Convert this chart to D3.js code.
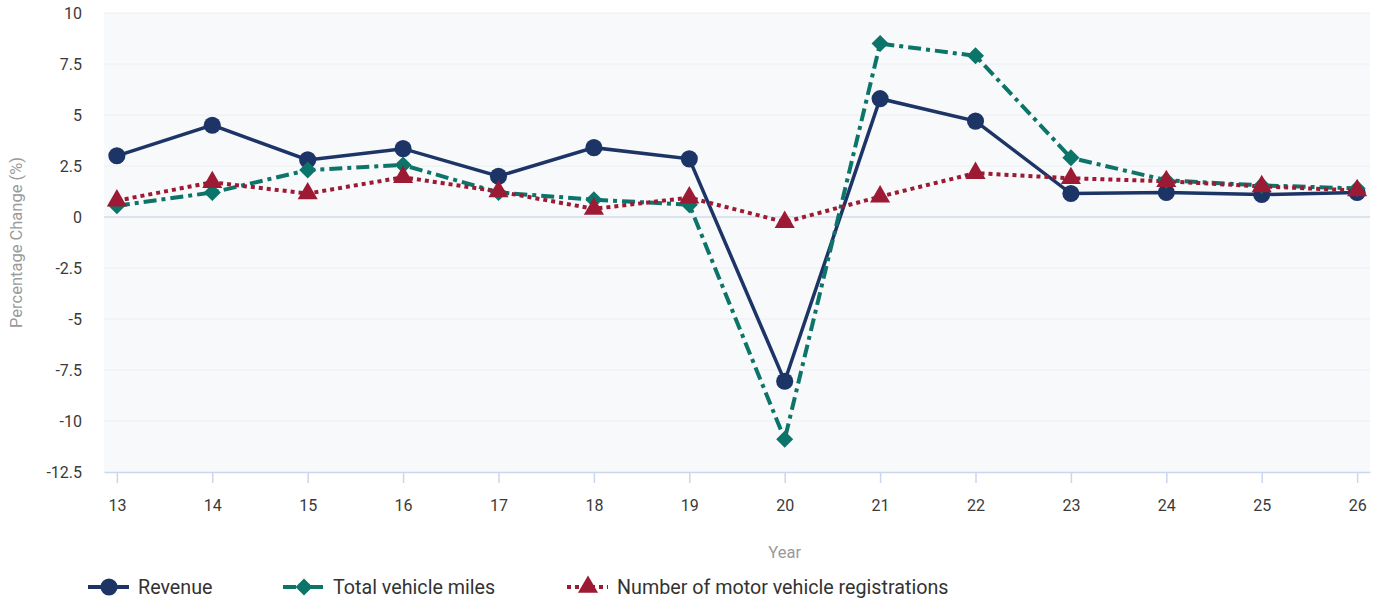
<!DOCTYPE html>
<html>
<head>
<meta charset="utf-8">
<script src="https://cdn.jsdelivr.net/npm/d3@7"></script>
<style>
  body { margin: 0; background: #fff; font-family: Roboto, "Open Sans", sans-serif; }
  #chart svg { display: block; }
  .tick text { fill: #3a3a3a; font-size: 16px; font-family: Roboto, sans-serif; }
  .axis-label { fill: #9a9a9a; font-size: 16.5px; }
  .legend-text { fill: #333; font-size: 19.7px; }
</style>
</head>
<body>
<div id="chart"></div>
<script>
// Data
const years = ["13", "14", "15", "16", "17", "18", "19", "20", "21", "22", "23", "24", "25", "26"];
const revenue = [3.0, 4.5, 2.8, 3.35, 2.0, 3.4, 2.85, -8.05, 5.8, 4.7, 1.15, 1.2, 1.1, 1.2];
const vehicleMiles = [0.55, 1.2, 2.3, 2.55, 1.2, 0.85, 0.6, -10.9, 8.5, 7.9, 2.9, 1.8, 1.55, 1.4];
const registrations = [0.8, 1.7, 1.15, 1.95, 1.25, 0.4, 0.95, -0.25, 1.0, 2.15, 1.9, 1.75, 1.5, 1.3];
const yTicks = [10, 7.5, 5, 2.5, 0, -2.5, -5, -7.5, -10, -12.5];

const series = [
    { name: "Revenue", values: revenue, color: "#1d3466", dash: null, width: 3.5, symbol: d3.symbolCircle, size: 230, rot: 0 },
    { name: "Total vehicle miles", values: vehicleMiles, color: "#0c7468", dash: "13,5,4,5", width: 4, symbol: d3.symbolSquare, size: 145, rot: 45 },
    { name: "Number of motor vehicle registrations", values: registrations, color: "#9c1a33", dash: "4,4", width: 4, symbol: d3.symbolTriangle, size: 175, rot: 0 }
];

const W = 1379, H = 600;
const margin = { top: 13, right: 9, bottom: 128, left: 104 };
const width = W - margin.left - margin.right;
const height = H - margin.top - margin.bottom;

const svg = d3.select("#chart").append("svg")
    .attr("width", W)
    .attr("height", H);

const g = svg.append("g")
    .attr("transform", `translate(${margin.left},${margin.top})`);

// Scales
const x = d3.scalePoint()
    .domain(years)
    .range([0, width])
    .padding(0.135);

const y = d3.scaleLinear()
    .domain([-12.5, 10])
    .range([height, 0]);

// Plot background
g.append("rect")
    .attr("width", width)
    .attr("height", height)
    .attr("fill", "#f8f9fa");

// Gridlines
g.selectAll(".grid")
    .data(yTicks.filter(t => t !== -12.5))
    .enter()
    .append("line")
    .attr("x1", 0)
    .attr("x2", width)
    .attr("y1", d => y(d))
    .attr("y2", d => y(d))
    .attr("stroke", d => d === 0 ? "#dde3ee" : "#eceef2")
    .attr("stroke-width", d => d === 0 ? 2 : 1);

// Y axis (plain hyphen for negatives, as in the original)
const yAxis = g.append("g")
    .call(d3.axisLeft(y).tickValues(yTicks).tickSize(0).tickPadding(22).tickFormat(d => String(d)));
yAxis.select(".domain").remove();

// X axis
const xAxis = g.append("g")
    .attr("transform", `translate(0,${height})`)
    .call(d3.axisBottom(x).tickSize(11).tickPadding(17).tickSizeOuter(0));
xAxis.select(".domain").attr("stroke", "#c9d7ec").attr("stroke-width", 1.5);
xAxis.selectAll(".tick line").attr("stroke", "#c9d7ec").attr("stroke-width", 1.5);

// Axis labels
svg.append("text")
    .attr("class", "axis-label")
    .attr("text-anchor", "middle")
    .attr("transform", "rotate(-90)")
    .attr("x", -(margin.top + y(-1.25)))
    .attr("y", 22)
    .text("Percentage Change (%)");

svg.append("text")
    .attr("class", "axis-label")
    .attr("text-anchor", "middle")
    .attr("x", margin.left + x("20"))
    .attr("y", 558)
    .text("Year");

// Lines
const line = d3.line()
    .x((d, i) => x(years[i]))
    .y(d => y(d));

series.forEach(s => {
    g.append("path")
        .datum(s.values)
        .attr("fill", "none")
        .attr("stroke", s.color)
        .attr("stroke-width", s.width)
        .attr("stroke-dasharray", s.dash)
        .attr("d", line);
});

series.forEach(s => {
    g.selectAll(null)
        .data(s.values)
        .enter()
        .append("path")
        .attr("d", d3.symbol().type(s.symbol).size(s.size))
        .attr("transform", (d, i) => `translate(${x(years[i])},${y(d)}) rotate(${s.rot})`)
        .attr("fill", s.color);
});

// Legend
const legendX = [88, 283, 567];
const legend = svg.append("g").attr("transform", "translate(0,587)");
series.forEach((s, i) => {
    const lg = legend.append("g").attr("transform", `translate(${legendX[i]},0)`);
    lg.append("line")
        .attr("x1", 0).attr("x2", 41)
        .attr("y1", 0).attr("y2", 0)
        .attr("stroke", s.color)
        .attr("stroke-width", 4)
        .attr("stroke-dasharray", s.dash);
    lg.append("path")
        .attr("d", d3.symbol().type(s.symbol).size(s.size))
        .attr("transform", `translate(21,0) rotate(${s.rot})`)
        .attr("fill", s.color);
    lg.append("text")
        .attr("class", "legend-text")
        .attr("x", 50)
        .attr("dy", "0.35em")
        .text(s.name);
});
</script>
</body>
</html>
